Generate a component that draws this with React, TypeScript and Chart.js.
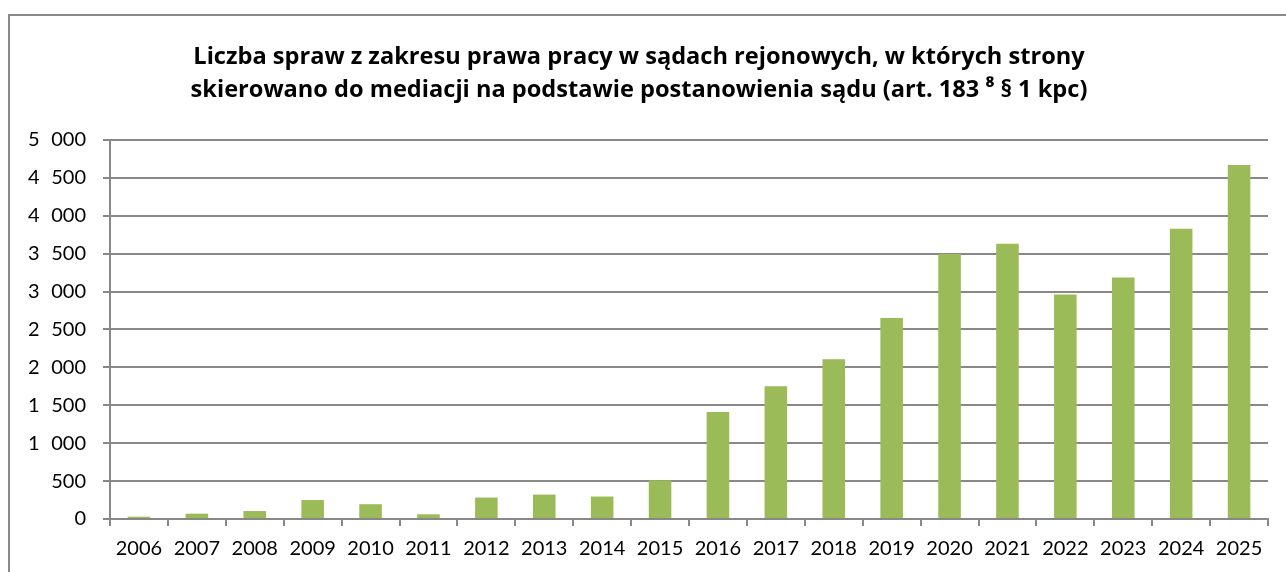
import React, { useEffect, useRef } from "react";
import { Chart, registerables } from "chart.js";

Chart.register(...registerables);

const categories = ["2006", "2007", "2008", "2009", "2010", "2011", "2012", "2013", "2014", "2015", "2016", "2017", "2018", "2019", "2020", "2021", "2022", "2023", "2024", "2025"];
const values = [30, 70, 105, 250, 195, 62, 283, 322, 296, 510, 1410, 1752, 2108, 2650, 3495, 3631, 2963, 3187, 3829, 4670];
const titleLines = [
  "Liczba spraw z zakresu prawa pracy w sądach rejonowych, w których strony",
  "skierowano do mediacji na podstawie postanowienia sądu (art. 183 \u2078 § 1 kpc)",
];
const yMin = 0;
const yMax = 5000;
const yStep = 500;

const FONT = "Lato, 'Open Sans', sans-serif";
const TITLE_FONT = "'Open Sans', Lato, sans-serif";
const GRID = "#888888";

function fmt(v: number): string {
  const s = String(Math.round(v));
  return s.replace(/\B(?=(\d{3})+(?!\d))/g, "\u2007");
}

export default function App() {
  const ref = useRef<HTMLCanvasElement | null>(null);
  useEffect(() => {
    if (!ref.current) return;
    const chart = new Chart(ref.current, {
      type: "bar",
      data: {
        labels: categories,
        datasets: [
          {
            data: values,
            backgroundColor: "#9BBB59",
            barPercentage: 0.39,
            categoryPercentage: 1,
          },
        ],
      },
      options: {
        responsive: true,
        maintainAspectRatio: false,
        animation: false,
        layout: { padding: { top: 0, left: 0, right: 18, bottom: 0 } },
        plugins: {
          legend: { display: false },
          tooltip: { enabled: false },
          title: {
            display: true,
            text: titleLines,
            color: "#000",
            font: { family: TITLE_FONT, size: 23.6, weight: "bold", lineHeight: 1.4 },
            padding: { top: 25, bottom: 32.9 },
          },
        },
        scales: {
          x: {
            grid: { display: true, drawOnChartArea: false, drawTicks: true, tickLength: 7, color: GRID, lineWidth: 2, offset: true },
            border: { display: true, color: GRID, width: 2 },
            ticks: { color: "#000", font: { family: FONT, size: 20 }, padding: 11, maxRotation: 0, autoSkip: false },
            afterFit: (s: any) => { s.height = 53; },
          },
          y: {
            min: yMin,
            max: yMax,
            ticks: { stepSize: yStep, color: "#000", font: { family: FONT, size: 20 }, padding: 17, callback: (v: any) => fmt(Number(v)) },
            grid: { color: GRID, lineWidth: 2, tickLength: 7 },
            border: { display: true, color: GRID, width: 2 },
            afterFit: (s: any) => { s.width = 100; },
          },
        },
      },
    });
    return () => chart.destroy();
  }, []);
  return (
    <div
      style={{
        position: "fixed",
        left: 8,
        top: 14,
        width: 1278,
        height: 558,
        boxSizing: "border-box",
        borderTop: "2px solid #8a8a8a",
        borderLeft: "2px solid #8a8a8a",
        background: "#fff",
      }}
    >
      <div style={{ position: "relative", width: "100%", height: "100%" }}>
        <canvas ref={ref} />
      </div>
    </div>
  );
}
